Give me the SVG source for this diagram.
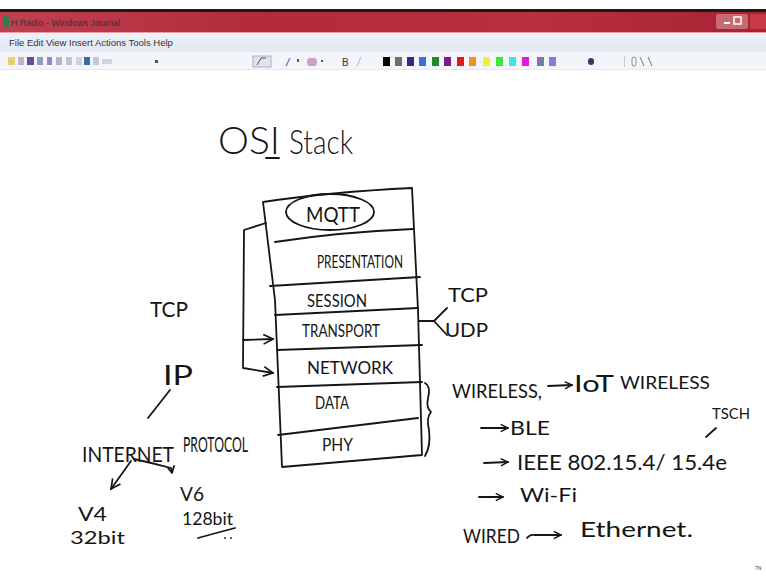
<svg xmlns="http://www.w3.org/2000/svg" width="766" height="578" viewBox="0 0 766 578">
  <defs>
    <linearGradient id="titlebar" x1="0" y1="0" x2="1" y2="0">
      <stop offset="0" stop-color="#c0404e"/>
      <stop offset="0.35" stop-color="#b22a3c"/>
      <stop offset="0.7" stop-color="#b8303f"/>
      <stop offset="1" stop-color="#a82234"/>
    </linearGradient>
    <linearGradient id="menubar" x1="0" y1="0" x2="0" y2="1">
      <stop offset="0" stop-color="#eef1f8"/>
      <stop offset="1" stop-color="#e2e7f1"/>
    </linearGradient>
    <marker id="head" viewBox="0 0 10 10" refX="9" refY="5" markerWidth="9" markerHeight="9" markerUnits="userSpaceOnUse" orient="auto">
      <path d="M1 1 L9 5 L1 9" fill="none" stroke="#151515" stroke-width="1.6"/>
    </marker>
    <marker id="headBig" viewBox="0 0 10 10" refX="9" refY="5" markerWidth="12" markerHeight="12" markerUnits="userSpaceOnUse" orient="auto">
      <path d="M1 1 L9 5 L1 9" fill="none" stroke="#151515" stroke-width="1.4"/>
    </marker>
  </defs>
  <style>
    .ink { fill: none; stroke: #151515; stroke-width: 1.8; stroke-linecap: round; stroke-linejoin: round; }
    .hand { font-family: Lato, "DejaVu Sans", "Liberation Sans", sans-serif; font-weight: 400; fill: #151515; }
    .thin { font-weight: 300; }
    .ui { font-family: "Liberation Sans", "DejaVu Sans", sans-serif; fill: #333; }
  </style>

  <!-- window frame -->
  <rect x="0" y="0" width="766" height="578" fill="#ffffff"/>
  <rect x="0" y="9" width="766" height="3" fill="#1a1a1a"/>
  <rect x="0" y="12" width="766" height="21" fill="url(#titlebar)"/>
  <rect x="0" y="32" width="766" height="1" fill="#e8a0a8"/>
  <rect x="3" y="16" width="6" height="11" fill="#3a7a4a"/>
  <text class="ui" x="11" y="26" font-size="9" fill="#f4e4e6">H Radio - Windows Journal</text>
  <rect x="716" y="14" width="32" height="15" rx="2" fill="#c86a74"/>
  <rect x="724" y="22" width="6" height="2" fill="#fff"/>
  <rect x="734" y="17" width="7" height="7" fill="none" stroke="#fff" stroke-width="1.5"/>
  <rect x="750" y="14" width="16" height="15" fill="#c83a44"/>

  <rect x="0" y="33" width="766" height="19" fill="url(#menubar)"/>
  <text class="ui" x="9" y="46" font-size="9.5">File  Edit  View  Insert  Actions  Tools  Help</text>
  <rect x="0" y="52" width="766" height="17" fill="#f3f5fa"/>
  <rect x="0" y="69" width="766" height="1" fill="#e6e9f0"/>

  <!-- toolbar icons -->
  <g id="toolbar">
    <rect x="8" y="57" width="7" height="8" fill="#e8d070"/>
    <rect x="18" y="57" width="6" height="8" fill="#b8b8c8"/>
    <rect x="27" y="57" width="7" height="8" fill="#6a4a9a"/>
    <rect x="37" y="57" width="6" height="8" fill="#8aa0c8"/>
    <rect x="47" y="57" width="5" height="8" fill="#8a90c0"/>
    <rect x="56" y="57" width="6" height="8" fill="#b0b8c8"/>
    <rect x="66" y="57" width="6" height="8" fill="#c0c4cc"/>
    <rect x="76" y="57" width="6" height="8" fill="#d0d4da"/>
    <rect x="84" y="57" width="6" height="8" fill="#3a6aa8"/>
    <rect x="93" y="57" width="6" height="8" fill="#c0c8d0"/>
    <rect x="102" y="59" width="10" height="5" fill="#d0d4dc"/>
    <rect x="155" y="60" width="3" height="3" fill="#555"/>
    <rect x="253" y="56" width="18" height="11" fill="#e0e4ec" stroke="#9aa0aa" stroke-width="0.8"/>
    <path d="M257 65 L261 58 L266 58" fill="none" stroke="#555" stroke-width="1"/>
    <rect x="297" y="59" width="2" height="3" fill="#555"/>
    <path d="M286 66 L290 58" stroke="#6a90c8" stroke-width="1.5"/>
    <rect x="307" y="58" width="10" height="8" rx="3" fill="#c8a0c8"/>
    <rect x="321" y="60" width="2" height="2" fill="#555"/>
    <text class="ui" x="342" y="66" font-size="10" fill="#c0c4cc">B</text>
    <path d="M357 66 L361 57" stroke="#c0c4cc" stroke-width="1.2"/>
    <rect x="383" y="57" width="7" height="9" fill="#000000"/>
    <rect x="395" y="57" width="7" height="9" fill="#6e6e6e"/>
    <rect x="407" y="57" width="7" height="9" fill="#2c2e80"/>
    <rect x="419" y="57" width="7" height="9" fill="#3a6ed8"/>
    <rect x="432" y="57" width="7" height="9" fill="#1f8a2a"/>
    <rect x="444" y="57" width="7" height="9" fill="#7a1a8a"/>
    <rect x="457" y="57" width="7" height="9" fill="#e01a1a"/>
    <rect x="469" y="57" width="7" height="9" fill="#f09020"/>
    <rect x="483" y="57" width="7" height="9" fill="#f4f02a"/>
    <rect x="496" y="57" width="7" height="9" fill="#3ae83a"/>
    <rect x="509" y="57" width="7" height="9" fill="#3ae8e8"/>
    <rect x="522" y="57" width="7" height="9" fill="#e01ae0"/>
    <rect x="537" y="57" width="7" height="9" fill="#7a7aa8"/>
    <rect x="549" y="57" width="7" height="9" fill="#7a82d8"/>
    <rect x="588" y="58" width="6" height="7" rx="3" fill="#3a3a6a"/>
    <rect x="624" y="56" width="1" height="11" fill="#c8ccd4"/>
    <rect x="632" y="57" width="4" height="9" rx="2" fill="none" stroke="#777" stroke-width="0.8"/>
    <path d="M640 57 L644 66 M648 57 L652 66" stroke="#777" stroke-width="1"/>
  </g>

  <!-- heading -->
  <g id="title">
    <text class="hand thin" x="218" y="154" font-size="38" textLength="62" lengthAdjust="spacingAndGlyphs">OSI</text>
    <text class="hand thin" x="289" y="154" font-size="34" textLength="64" lengthAdjust="spacingAndGlyphs">Stack</text>
    <path class="ink" d="M266 158 L279 158"/>
  </g>

  <!-- the stack of layers -->
  <g id="stack-frame">
    <path class="ink" d="M263 202 Q330 192 412 188 L418 310 L422 455 L282 467 L275 300 Z"/>
  </g>
  <g id="layer-mqtt">
    <ellipse class="ink" cx="330" cy="212" rx="44" ry="18"/>
    <text class="hand" x="306" y="222" font-size="21" textLength="54" lengthAdjust="spacingAndGlyphs">MQTT</text>
    <path class="ink" d="M275 242 Q340 232 413 229"/>
  </g>
  <g id="layer-presentation">
    <text class="hand" x="317" y="268" font-size="17" textLength="86" lengthAdjust="spacingAndGlyphs">PRESENTATION</text>
    <path class="ink" d="M270 286 L420 277"/>
  </g>
  <g id="layer-session">
    <text class="hand" x="307" y="307" font-size="17" textLength="60" lengthAdjust="spacingAndGlyphs">SESSION</text>
    <path class="ink" d="M275 315 L418 308"/>
  </g>
  <g id="layer-transport">
    <text class="hand" x="302" y="337" font-size="17" textLength="78" lengthAdjust="spacingAndGlyphs">TRANSPORT</text>
    <path class="ink" d="M277 350 L422 345"/>
  </g>
  <g id="layer-network">
    <text class="hand" x="307" y="374" font-size="18" textLength="86" lengthAdjust="spacingAndGlyphs">NETWORK</text>
    <path class="ink" d="M277 387 L422 382"/>
  </g>
  <g id="layer-data">
    <text class="hand" x="315" y="409" font-size="18" textLength="34" lengthAdjust="spacingAndGlyphs">DATA</text>
    <path class="ink" d="M278 435 L418 418"/>
  </g>
  <g id="layer-phy">
    <text class="hand" x="322" y="451" font-size="18" textLength="31" lengthAdjust="spacingAndGlyphs">PHY</text>
  </g>

  <!-- left-hand notes -->
  <g id="note-tcp">
    <text class="hand" x="150" y="317" font-size="21" textLength="38" lengthAdjust="spacingAndGlyphs">TCP</text>
  </g>
  <g id="note-ip">
    <text class="hand" x="163" y="385" font-size="26" textLength="30" lengthAdjust="spacingAndGlyphs">IP</text>
  </g>
  <g id="note-internet-protocol">
    <text class="hand" x="82" y="462" font-size="22" textLength="92" lengthAdjust="spacingAndGlyphs">INTERNET</text>
    <text class="hand" x="183" y="452" font-size="21" textLength="65" lengthAdjust="spacingAndGlyphs">PROTOCOL</text>
  </g>
  <g id="note-v4">
    <text class="hand" x="78" y="521" font-size="20" textLength="29" lengthAdjust="spacingAndGlyphs">V4</text>
    <text class="hand" x="70" y="544" font-size="18" textLength="55" lengthAdjust="spacingAndGlyphs">32bit</text>
  </g>
  <g id="note-v6">
    <text class="hand" x="180" y="501" font-size="20" textLength="24" lengthAdjust="spacingAndGlyphs">V6</text>
    <text class="hand" x="182" y="525" font-size="18" textLength="51" lengthAdjust="spacingAndGlyphs">128bit</text>
    <path class="ink" d="M198 538 Q216 533 235 528"/>
    <circle cx="225" cy="538" r="0.9" fill="#151515"/>
    <circle cx="231" cy="538" r="0.9" fill="#151515"/>
  </g>

  <!-- right-hand notes -->
  <g id="note-tcp-udp">
    <text class="hand" x="448" y="302" font-size="19" textLength="40" lengthAdjust="spacingAndGlyphs">TCP</text>
    <text class="hand" x="445" y="337" font-size="19" textLength="43" lengthAdjust="spacingAndGlyphs">UDP</text>
  </g>
  <g id="note-wireless">
    <text class="hand" x="452" y="398" font-size="19" textLength="90" lengthAdjust="spacingAndGlyphs">WIRELESS,</text>
    <text class="hand" x="574" y="392" font-size="24" textLength="40" lengthAdjust="spacingAndGlyphs">IoT</text>
    <text class="hand" x="620" y="389" font-size="18" textLength="90" lengthAdjust="spacingAndGlyphs">WIRELESS</text>
  </g>
  <g id="note-ble">
    <text class="hand" x="510" y="435" font-size="19" textLength="40" lengthAdjust="spacingAndGlyphs">BLE</text>
  </g>
  <g id="note-ieee">
    <text class="hand" x="517" y="470" font-size="21" textLength="210" lengthAdjust="spacingAndGlyphs">IEEE 802.15.4/ 15.4e</text>
    <text class="hand" x="712" y="419" font-size="15" textLength="38" lengthAdjust="spacingAndGlyphs">TSCH</text>
  </g>
  <g id="note-wifi">
    <text class="hand" x="520" y="502" font-size="20" textLength="57" lengthAdjust="spacingAndGlyphs">Wi-Fi</text>
  </g>
  <g id="note-wired">
    <text class="hand" x="463" y="543" font-size="19" textLength="57" lengthAdjust="spacingAndGlyphs">WIRED</text>
    <text class="hand" x="580" y="537" font-size="22" textLength="113" lengthAdjust="spacingAndGlyphs">Ethernet.</text>
  </g>

  <!-- connectors -->
  <g id="connectors">
    <!-- bracket from the top layers down to transport and network -->
    <path class="ink" d="M266 223 L244 230 L243 368 L273 373" marker-end="url(#headBig)"/>
    <path class="ink" d="M243 340 L273 339" marker-end="url(#headBig)"/>
    <!-- transport fork to TCP / UDP -->
    <path class="ink" d="M419 321 L434 321 L447 308 M434 321 L447 335"/>
    <!-- brace spanning data and phy -->
    <path class="ink" d="M425 383 Q431 386 428 398 Q426 408 431 412 Q426 418 429 430 Q431 446 425 456"/>
    <!-- IP to Internet Protocol -->
    <path class="ink" d="M170 390 L148 418"/>
    <!-- Internet Protocol to V4 / V6 -->
    <path class="ink" d="M131 461 L111 489" marker-end="url(#headBig)"/>
    <path class="ink" d="M134 459 Q152 463 171 468 L172 472"/>
    <path class="ink" d="M168 468 L172 473 L174 466"/>
    <!-- list arrows -->
    <path class="ink" d="M548 386 L572 385" marker-end="url(#head)"/>
    <path class="ink" d="M481 428 L508 428" marker-end="url(#head)"/>
    <path class="ink" d="M484 463 L508 462" marker-end="url(#head)"/>
    <path class="ink" d="M479 497 L503 497" marker-end="url(#head)"/>
    <path class="ink" d="M527 538 Q530 534 534 535 L561 535" marker-end="url(#head)"/>
    <!-- TSCH pointer -->
    <path class="ink" d="M706 437 L716 428"/>
  </g>

  <text class="ui" x="755" y="570" font-size="5" fill="#888">7N</text>
</svg>
